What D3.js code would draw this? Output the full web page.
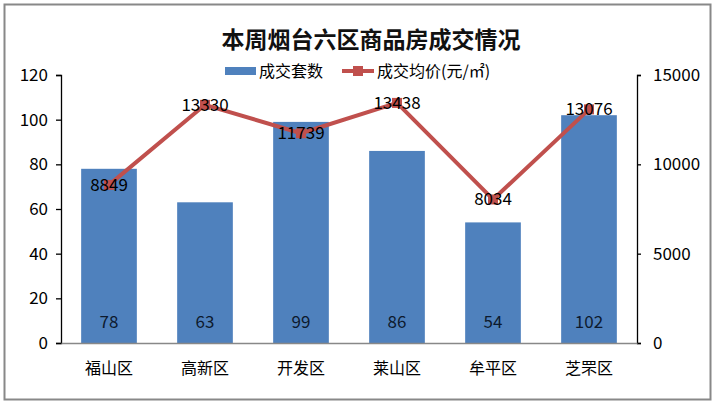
<!DOCTYPE html>
<html><head><meta charset="utf-8">
<script src="https://cdn.jsdelivr.net/npm/d3@7"></script>
<style>body{margin:0;background:#fff}svg{display:block}text{font-family:"Noto Sans CJK SC","Noto Sans",sans-serif}</style>
</head><body><svg id="c" width="716" height="406"></svg>
<script>
const categories = ["福山区","高新区","开发区","莱山区","牟平区","芝罘区"];
const volume = [78,63,99,86,54,102];
const price = [8849,13330,11739,13438,8034,13076];
const leftTicks = [0,20,40,60,80,100,120];
const rightTicks = [0,5000,10000,15000];
const title = "本周烟台六区商品房成交情况";
const legendNames = ["成交套数","成交均价(元/㎡)"];

const svg = d3.select("#c");
const L = 61, R = 637, T = 75, B = 343;
svg.append("rect").attr("x",4.5).attr("y",4.5).attr("width",706).attr("height",395)
  .attr("fill","#fff").attr("stroke","#888").attr("stroke-width",2);

const x = d3.scaleBand().domain(categories).range([L,R]).paddingInner(0.42).paddingOuter(0.21);
const yL = d3.scaleLinear().domain([0,120]).range([B,T]);
const yR = d3.scaleLinear().domain([0,15000]).range([B,T]);

svg.append("text").attr("x",371).attr("y",48).attr("text-anchor","middle")
  .attr("font-size",23).attr("font-weight","bold").attr("fill","#111").text(title);

// bars
svg.selectAll(".bar").data(volume).enter().append("rect")
  .attr("x",(d,i)=>x(categories[i])).attr("width",x.bandwidth())
  .attr("y",d=>yL(d)).attr("height",d=>B-yL(d)).attr("fill","#4f81bd");

// axes
const ax = svg.append("g").attr("transform",`translate(${L},0)`)
  .call(d3.axisLeft(yL).tickValues(leftTicks).tickSize(5).tickPadding(8));
const ar = svg.append("g").attr("transform",`translate(${R},0)`)
  .call(d3.axisRight(yR).tickValues(rightTicks).tickFormat(d3.format("d")).tickSize(4).tickPadding(12));
const ab = svg.append("g").attr("transform",`translate(0,${B})`)
  .call(d3.axisBottom(x).tickSize(0).tickPadding(20));
[ax,ar,ab].forEach(g=>{
  g.selectAll("path,line").attr("stroke","#000").attr("stroke-width",1.3);
  g.selectAll("text").attr("font-size",17).attr("fill","#000")
   .attr("font-family",'"Noto Sans CJK SC","Noto Sans",sans-serif');
});
ab.select(".domain").attr("stroke","#888");
ab.selectAll("text").attr("font-size",16);

// line
const line = d3.line().x((d,i)=>x(categories[i])+x.bandwidth()/2).y(d=>yR(d));
svg.append("path").datum(price).attr("d",line).attr("fill","none")
  .attr("stroke","#c0504d").attr("stroke-width",4).attr("stroke-linejoin","round");
svg.selectAll(".mk").data(price).enter().append("rect")
  .attr("x",(d,i)=>x(categories[i])+x.bandwidth()/2-5).attr("y",d=>yR(d)-5)
  .attr("width",10).attr("height",10).attr("fill","#c0504d");

// labels
svg.selectAll(".pl").data(price).enter().append("text")
  .attr("x",(d,i)=>x(categories[i])+x.bandwidth()/2).attr("y",d=>yR(d)+6)
  .attr("text-anchor","middle").attr("font-size",17).attr("fill","#000").text(d=>d);
svg.selectAll(".vl").data(volume).enter().append("text")
  .attr("x",(d,i)=>x(categories[i])+x.bandwidth()/2).attr("y",328)
  .attr("text-anchor","middle").attr("font-size",17).attr("fill","#0d1a2e").text(d=>d);

// legend
svg.append("rect").attr("x",225).attr("y",67).attr("width",31).attr("height",8).attr("fill","#4f81bd");
svg.append("text").attr("x",259).attr("y",77).attr("font-size",16).attr("fill","#000").text(legendNames[0]);
svg.append("line").attr("x1",342).attr("x2",374).attr("y1",71).attr("y2",71).attr("stroke","#c0504d").attr("stroke-width",4);
svg.append("rect").attr("x",353).attr("y",66).attr("width",10).attr("height",10).attr("fill","#c0504d");
svg.append("text").attr("x",377).attr("y",77).attr("font-size",16).attr("fill","#000").text(legendNames[1]);
</script></body></html>
